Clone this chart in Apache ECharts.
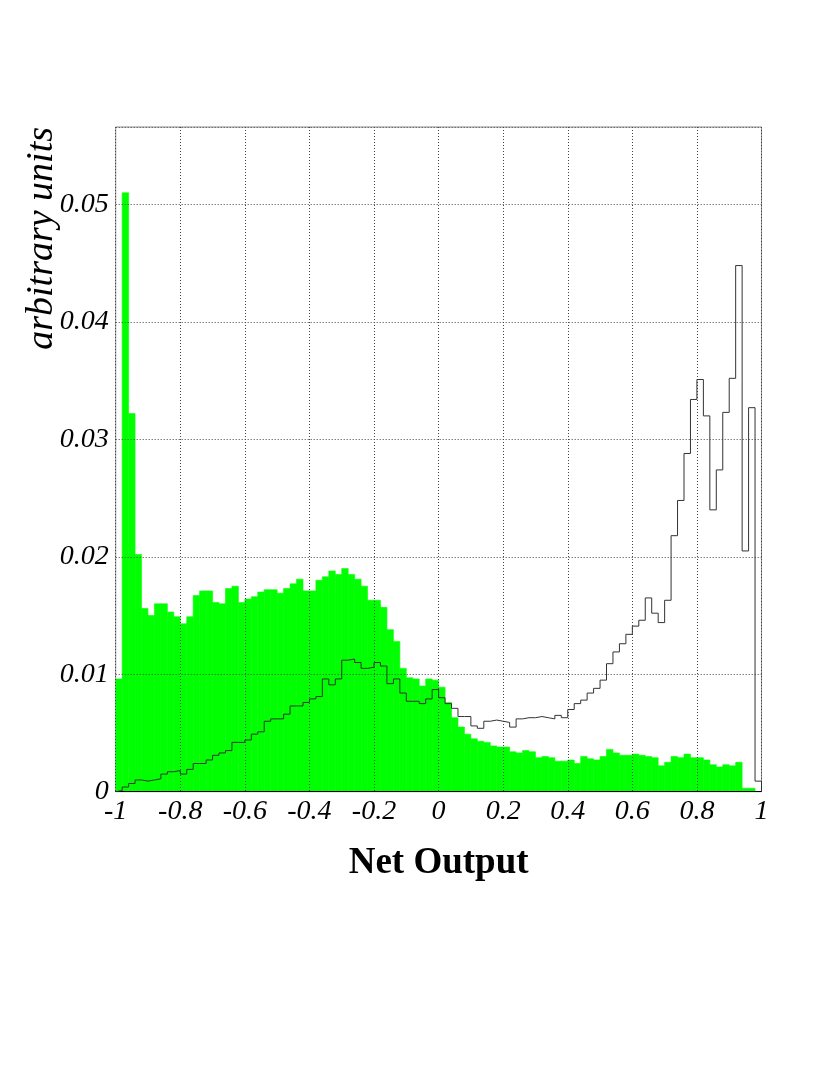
<!DOCTYPE html>
<html>
<head>
<meta charset="utf-8">
<script src="https://cdn.jsdelivr.net/npm/echarts@6/dist/echarts.min.js"></script>
<style>
  html, body { margin: 0; padding: 0; background: #fff; }
  #main { width: 837px; height: 1083px; }
</style>
</head>
<body>
<div id="main"></div>
<script>
// 100 bins from -1 to 1
var binLow = -1;
var binWidth = 0.02;

// filled green histogram
var greenHist = [
  0.0096, 0.0510, 0.0322, 0.0202, 0.0156, 0.0150, 0.0160, 0.0160, 0.0153, 0.0149,
  0.0143, 0.0149, 0.0167, 0.0171, 0.0171, 0.0161, 0.0160, 0.0173, 0.0175, 0.0161,
  0.0164, 0.0166, 0.0170, 0.0172, 0.0172, 0.0169, 0.0173, 0.0177, 0.0181, 0.0171,
  0.0171, 0.0180, 0.0183, 0.0188, 0.0185, 0.0190, 0.0185, 0.0181, 0.0175, 0.0163,
  0.0163, 0.0157, 0.0138, 0.0128, 0.0105, 0.0097, 0.0096, 0.0090, 0.0096, 0.0095,
  0.0089, 0.0076, 0.0063, 0.0055, 0.0049, 0.0045, 0.0043, 0.0042, 0.0039, 0.0038,
  0.0038, 0.0034, 0.0033, 0.0035, 0.0034, 0.0029, 0.0030, 0.0029, 0.0026, 0.0026,
  0.0027, 0.0024, 0.0030, 0.0028, 0.0027, 0.0030, 0.0036, 0.0033, 0.0031, 0.0031,
  0.0032, 0.0031, 0.0030, 0.0029, 0.0022, 0.0025, 0.0030, 0.0029, 0.0032, 0.0029,
  0.0029, 0.0027, 0.0023, 0.0021, 0.0023, 0.0022, 0.0025, 0.0003, 0.0003, 0
];

// black outline histogram
var blackHist = [
  0.0001, 0.0004, 0.0007, 0.0010, 0.0009, 0.0010, 0.0011, 0.0015, 0.0017, 0.0018,
  0.0015, 0.0019, 0.0024, 0.0024, 0.0027, 0.0031, 0.0033, 0.0035, 0.0042, 0.0042,
  0.0044, 0.0049, 0.0051, 0.0060, 0.0062, 0.0062, 0.0066, 0.0073, 0.0073, 0.0076,
  0.0079, 0.0081, 0.0096, 0.0091, 0.0096, 0.0112, 0.0113, 0.0110, 0.0105, 0.0106,
  0.0110, 0.0107, 0.0092, 0.0096, 0.0084, 0.0077, 0.0077, 0.0075, 0.0079, 0.0087,
  0.0080, 0.0075, 0.0071, 0.0064, 0.0064, 0.0056, 0.0054, 0.0060, 0.0061, 0.0060,
  0.0059, 0.0055, 0.0062, 0.0063, 0.0063, 0.0064, 0.0063, 0.0062, 0.0065, 0.0063,
  0.0070, 0.0075, 0.0078, 0.0084, 0.0088, 0.0095, 0.0109, 0.0119, 0.0126, 0.0134,
  0.0141, 0.0146, 0.0165, 0.0152, 0.0144, 0.0163, 0.0218, 0.0248, 0.0288, 0.0334,
  0.0351, 0.0320, 0.0240, 0.0274, 0.0323, 0.0352, 0.0448, 0.0205, 0.0327, 0.0009
];

var xMin = -1, xMax = 1, xStep = 0.2;
var yMin = 0, yMax = 0.0566, yStep = 0.01;

var font = 'Liberation Serif';

var greenData = greenHist.map(function (v, i) {
  var lo = binLow + i * binWidth;
  return [lo, lo + binWidth, v];
});

// step outline: start at 0, one point per lower bin edge, close at the end
var blackData = [[binLow, 0]];
blackHist.forEach(function (v, i) {
  blackData.push([binLow + i * binWidth, v]);
});
blackData.push([binLow + blackHist.length * binWidth, blackHist[blackHist.length - 1]]);
blackData.push([binLow + blackHist.length * binWidth, 0]);

function renderBin(params, api) {
  var top = api.coord([api.value(0), api.value(2)]);
  var bot = api.coord([api.value(1), 0]);
  return {
    type: 'rect',
    shape: { x: top[0], y: top[1], width: bot[0] - top[0], height: bot[1] - top[1] },
    style: { fill: '#00ff00', stroke: '#00ff00', lineWidth: 0.6 }
  };
}

var myChart = echarts.init(document.getElementById('main'));

var option = {
  backgroundColor: '#fff',
  animation: false,
  grid: {
    left: 115.7,
    right: 75.5,
    top: 127,
    bottom: 291.3,
    show: true,
    borderColor: '#8a8a8a',
    borderWidth: 1
  },
  xAxis: {
    type: 'value',
    min: xMin,
    max: xMax,
    interval: xStep,
    z: 5,
    name: 'Net Output',
    nameLocation: 'middle',
    nameGap: 53,
    nameTextStyle: { fontFamily: font, fontWeight: 'bold', fontSize: 37, color: '#000' },
    axisLine: { show: true, onZero: false, lineStyle: { color: '#000', width: 1 } },
    axisTick: { show: false },
    axisLabel: {
      fontFamily: font, fontStyle: 'italic', fontSize: 28, color: '#000', margin: 6,
      formatter: function (v) { return String(Math.round(v * 10) / 10); }
    },
    splitLine: { show: true, lineStyle: { color: '#444', type: [1, 2], width: 1 } }
  },
  yAxis: {
    type: 'value',
    min: yMin,
    max: yMax,
    interval: yStep,
    z: 5,
    axisLine: { show: false },
    axisTick: { show: false },
    axisLabel: {
      fontFamily: font, fontStyle: 'italic', fontSize: 28, color: '#000', margin: 7,
      showMaxLabel: false,
      formatter: function (v) {
        if (v > 0.055) return '';
        return v === 0 ? '0' : v.toFixed(2);
      }
    },
    splitLine: { show: true, lineStyle: { color: '#444', type: [1, 2], width: 1 } }
  },
  graphic: [{
    type: 'text',
    x: 42,
    y: 127,
    rotation: Math.PI / 2,
    style: {
      text: 'arbitrary units',
      fontFamily: font,
      fontStyle: 'italic',
      fontSize: 38,
      fill: '#000',
      textAlign: 'right',
      textVerticalAlign: 'middle'
    }
  }],
  series: [
    {
      name: 'green',
      type: 'custom',
      renderItem: renderBin,
      encode: { x: [0, 1], y: 2 },
      clip: true,
      z: 2,
      data: greenData
    },
    {
      name: 'black',
      type: 'line',
      step: 'end',
      symbol: 'none',
      z: 6,
      lineStyle: { color: '#333', width: 1 },
      data: blackData
    }
  ]
};

myChart.setOption(option);
</script>
</body>
</html>
